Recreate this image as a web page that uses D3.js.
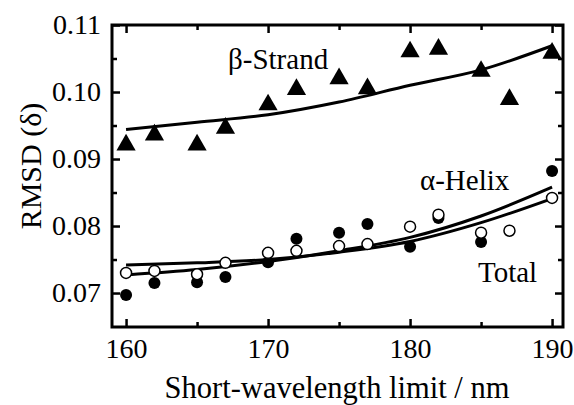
<!DOCTYPE html>
<html>
<head>
<meta charset="utf-8">
<script src="https://cdn.jsdelivr.net/npm/d3@7"></script>
<style>
  body { margin: 0; background: #fff; }
</style>
</head>
<body>
<div id="chart-area"></div>
<script>
const MARGIN = { LEFT: 112, RIGHT: 11, TOP: 25, BOTTOM: 78 }
const WIDTH = 574 - MARGIN.LEFT - MARGIN.RIGHT
const HEIGHT = 405 - MARGIN.TOP - MARGIN.BOTTOM
const FONT = '"Liberation Serif"'

// data
const wavelengths = [160, 162, 165, 167, 170, 172, 175, 177, 180, 182, 185, 187, 190]
const strand = [0.0921, 0.0936, 0.0921, 0.0946, 0.0981, 0.1004, 0.1020, 0.1005, 0.1060, 0.1064, 0.1031, 0.0989, 0.1058]
const helixX = [160, 162, 165, 167, 170, 172, 175, 177, 180, 182, 185, 190]
const helix = [0.0697, 0.0715, 0.0716, 0.0724, 0.0746, 0.0781, 0.0790, 0.0803, 0.0769, 0.0812, 0.0776, 0.0882]
const total = [0.0730, 0.0733, 0.0728, 0.0745, 0.0760, 0.0763, 0.0770, 0.0773, 0.0799, 0.0817, 0.0790, 0.0793, 0.0842]

// fitted curves
const fitX = [160, 165, 170, 175, 180, 185, 190]
const strandFit = [0.0944, 0.0955, 0.0966, 0.0985, 0.1010, 0.1033, 0.1069]
const helixFit = [0.0727, 0.0735, 0.0747, 0.0763, 0.0783, 0.0815, 0.0858]
const totalFit = [0.0742, 0.0745, 0.0750, 0.0761, 0.0777, 0.0805, 0.0841]

const xMajor = [160, 170, 180, 190]
const xMinor = [165, 175, 185]
const yMajor = [0.07, 0.08, 0.09, 0.10, 0.11]
const yMinor = [0.075, 0.085, 0.095, 0.105]

const svg = d3.select("#chart-area").append("svg")
  .attr("width", 574)
  .attr("height", 405)

const g = svg.append("g")
  .attr("transform", `translate(${MARGIN.LEFT}, ${MARGIN.TOP})`)

const x = d3.scaleLinear().domain([159.01, 190.77]).range([0, WIDTH])
const y = d3.scaleLinear().domain([0.06493, 0.11]).range([HEIGHT, 0])

// ticks on all four sides, pointing inward
function ticks(axisFn, values, size, transform, labels) {
  const ax = axisFn.tickValues(values).tickSizeInner(-size).tickSizeOuter(0)
  ax.tickFormat(labels ? labels : () => "")
  const grp = g.append("g").attr("transform", transform).call(ax)
  grp.select(".domain").remove()
  grp.selectAll("line").attr("stroke", "#000").attr("stroke-width", 2.5)
  return grp
}

const xLab = ticks(d3.axisBottom(x), xMajor, 8, `translate(0, ${HEIGHT})`, d => d)
xLab.selectAll("text").attr("y", 11)
ticks(d3.axisBottom(x), xMinor, 5, `translate(0, ${HEIGHT})`)
ticks(d3.axisTop(x), xMajor, 8, "translate(0, 0)")
ticks(d3.axisTop(x), xMinor, 5, "translate(0, 0)")

const yLab = ticks(d3.axisLeft(y), yMajor, 8, "translate(0, 0)", d3.format(".2f"))
yLab.selectAll("text").attr("x", -11)
ticks(d3.axisLeft(y), yMinor, 5, "translate(0, 0)")
ticks(d3.axisRight(y), yMajor, 8, `translate(${WIDTH}, 0)`)
ticks(d3.axisRight(y), yMinor, 5, `translate(${WIDTH}, 0)`)

g.selectAll(".tick text")
  .attr("fill", "#000")
  .style("font-family", FONT)
  .style("font-size", "28px")

// frame
g.append("rect")
  .attr("width", WIDTH)
  .attr("height", HEIGHT)
  .attr("fill", "none")
  .attr("stroke", "#000")
  .attr("stroke-width", 3)

// fit lines
const line = d3.line()
  .x(d => x(d[0]))
  .y(d => y(d[1]))
  .curve(d3.curveMonotoneX)

;[strandFit, helixFit, totalFit].forEach(fit => {
  g.append("path")
    .datum(fitX.map((v, i) => [v, fit[i]]))
    .attr("d", line)
    .attr("fill", "none")
    .attr("stroke", "#000")
    .attr("stroke-width", 3)
})

// beta-strand triangles
const tri = d3.symbol().type(d3.symbolTriangle).size(160)
g.selectAll(".strand")
  .data(wavelengths.map((v, i) => [v, strand[i]]))
  .enter().append("path")
  .attr("class", "strand")
  .attr("d", tri)
  .attr("transform", d => `translate(${x(d[0])}, ${y(d[1])})`)
  .attr("fill", "#000")

// alpha-helix filled circles
g.selectAll(".helix")
  .data(helixX.map((v, i) => [v, helix[i]]))
  .enter().append("circle")
  .attr("class", "helix")
  .attr("cx", d => x(d[0]))
  .attr("cy", d => y(d[1]))
  .attr("r", 6)
  .attr("fill", "#000")

// total open circles
g.selectAll(".total")
  .data(wavelengths.map((v, i) => [v, total[i]]))
  .enter().append("circle")
  .attr("class", "total")
  .attr("cx", d => x(d[0]))
  .attr("cy", d => y(d[1]))
  .attr("r", 5.5)
  .attr("fill", "#fff")
  .attr("stroke", "#000")
  .attr("stroke-width", 1.5)

// series labels
function label(px, py, txt) {
  g.append("text")
    .attr("x", px - MARGIN.LEFT)
    .attr("y", py - MARGIN.TOP)
    .style("font-family", FONT)
    .style("font-size", "29px")
    .text(txt)
}
label(228, 69, "β-Strand")
label(420, 190, "α-Helix")
label(478, 282, "Total")

// axis titles
svg.append("text")
  .attr("x", 337)
  .attr("y", 398)
  .attr("text-anchor", "middle")
  .style("font-family", FONT)
  .style("font-size", "30.5px")
  .text("Short-wavelength limit / nm")

svg.append("text")
  .attr("transform", "translate(41, 166) rotate(-90)")
  .attr("text-anchor", "middle")
  .style("font-family", FONT)
  .style("font-size", "30px")
  .text("RMSD (δ)")
</script>
</body>
</html>
